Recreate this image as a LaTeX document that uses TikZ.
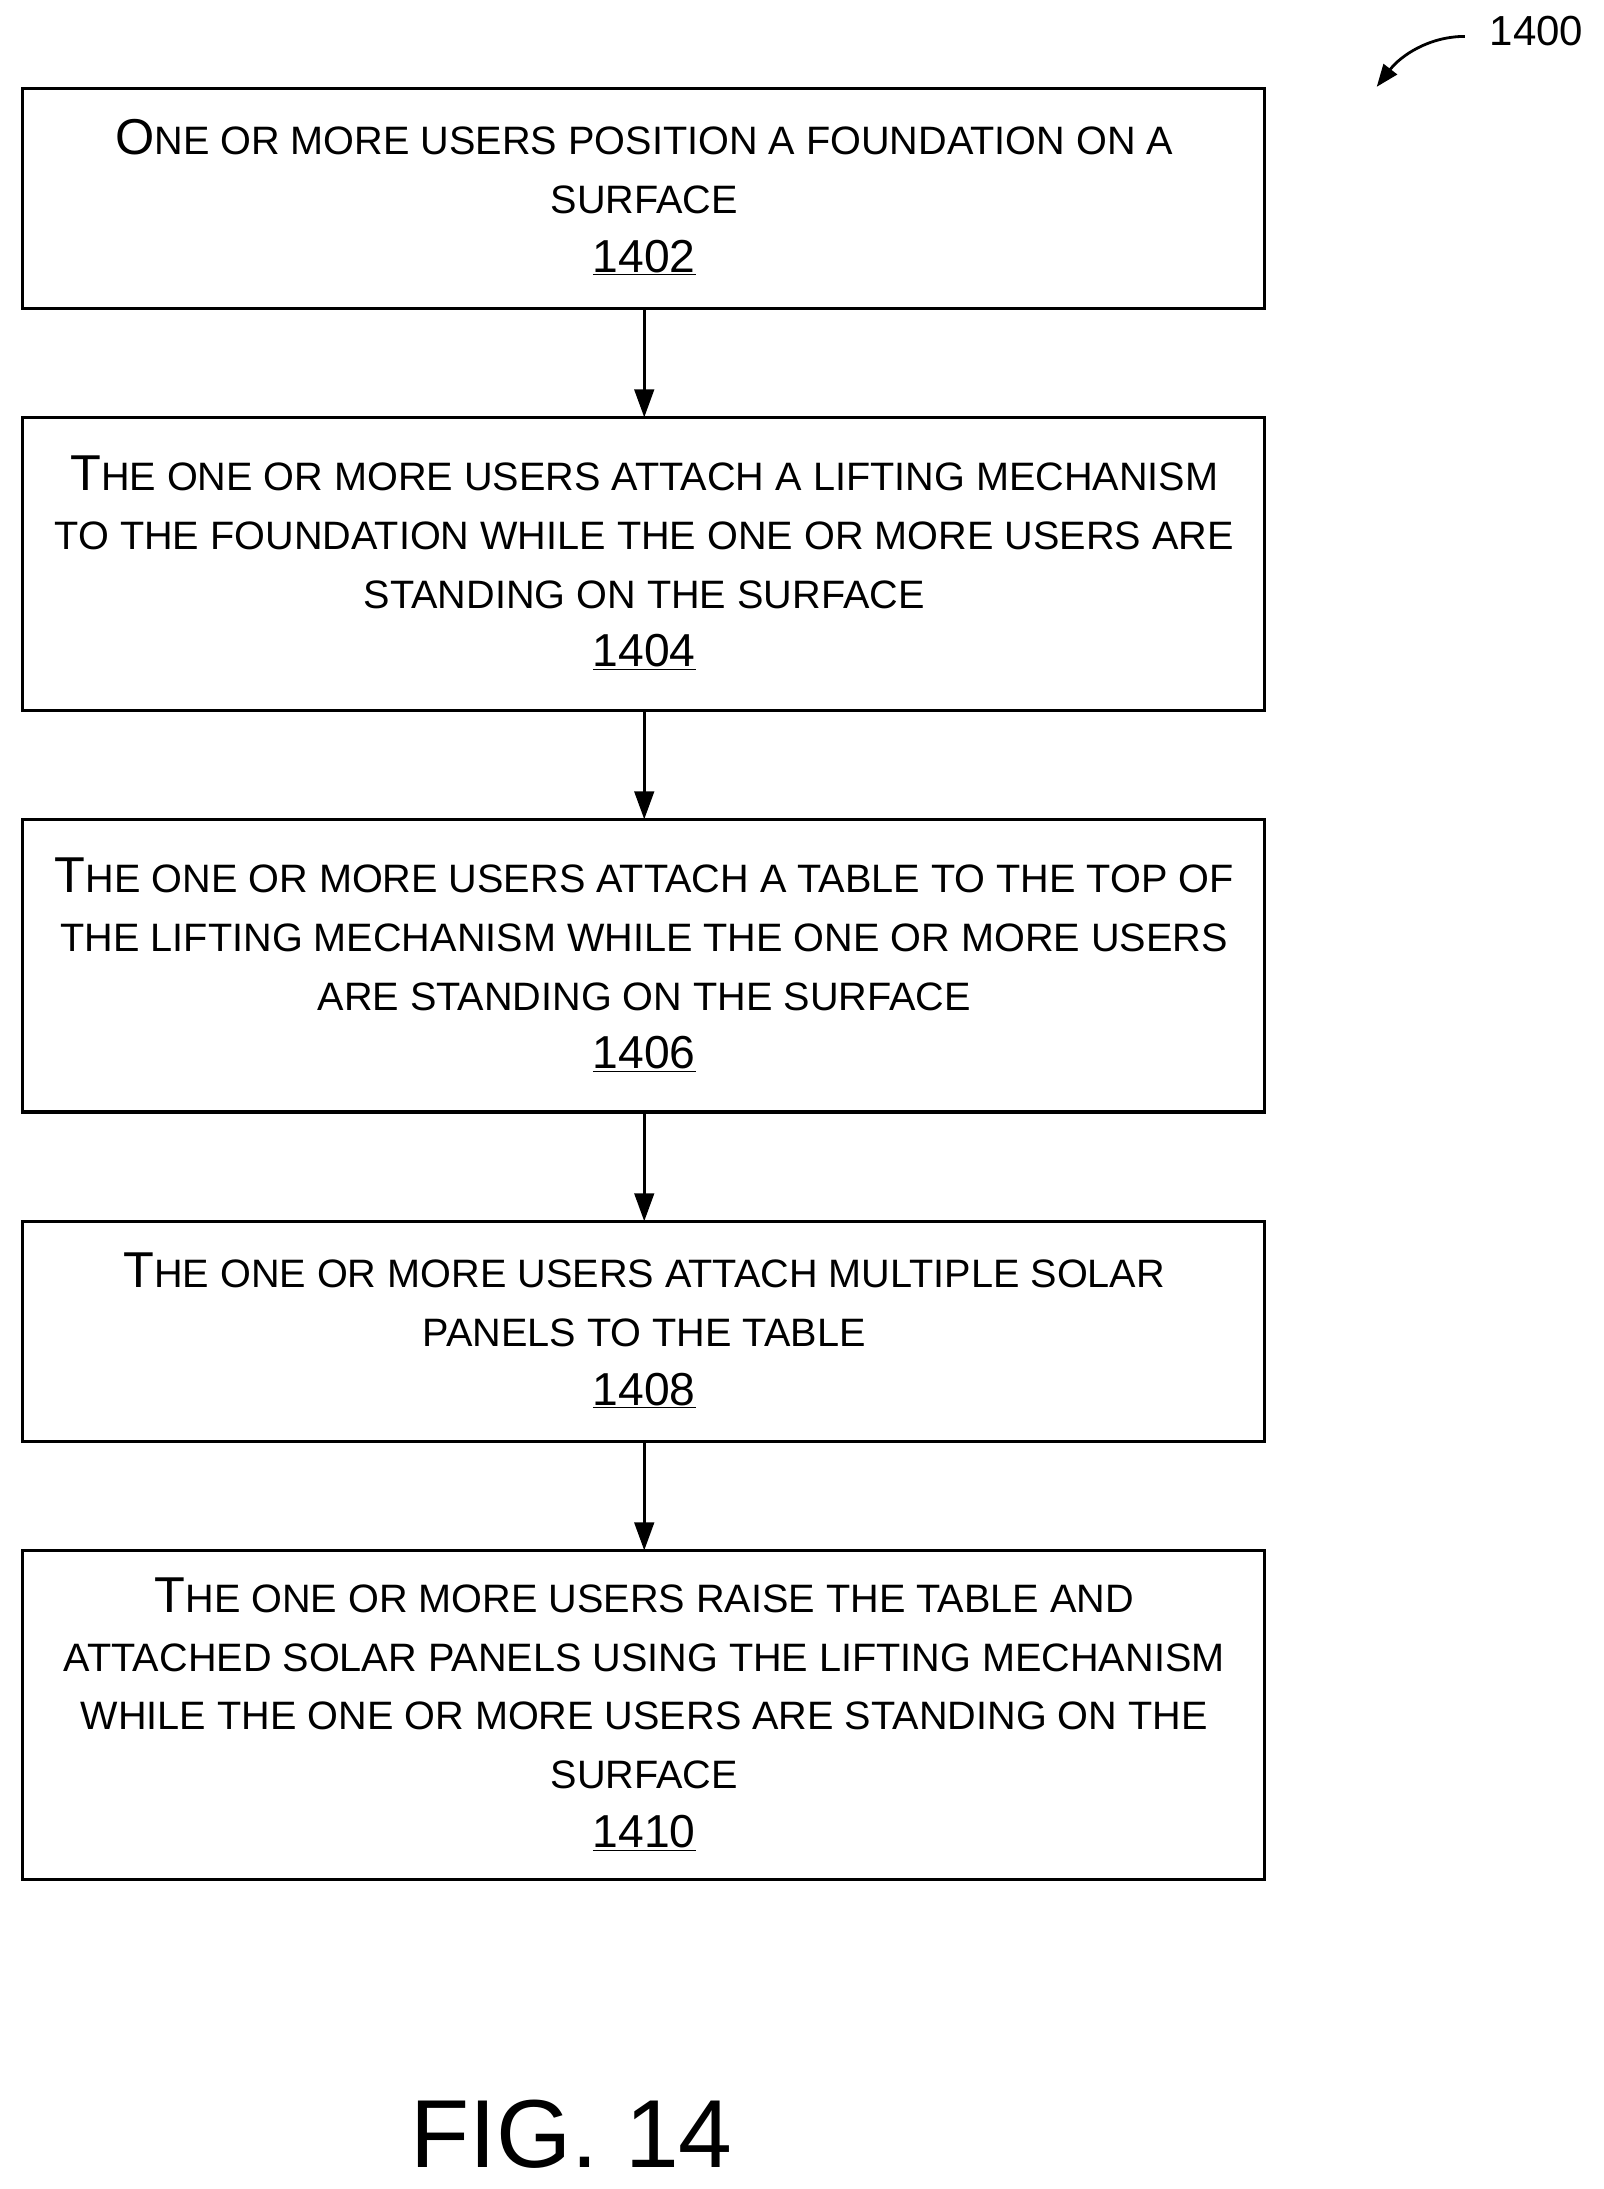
\documentclass[tikz,border=0pt]{standalone}
\usepackage{fontspec}
\setmainfont{Liberation Sans}
\usetikzlibrary{arrows.meta}
\newcommand{\bigc}[1]{{\fontsize{36}{42}\selectfont #1}}
\newcommand{\sm}[1]{{\fontsize{28.3}{42}\selectfont #1}}
\newcommand{\num}[1]{{\fontsize{33}{42}\selectfont\underline{#1}}}
\tikzset{txt/.style={align=center,inner sep=0pt,font=\fontsize{28.3}{42}\selectfont},
arr/.style={-{Triangle[length=20pt,width=14pt]},line width=2pt}}
\begin{document}
\begin{tikzpicture}[x=1pt,y=-1pt]
\useasboundingbox (0,0) rectangle (1145,1563);
\draw[line width=2.2pt] (16,63) rectangle (903,220);
\draw[line width=2.2pt] (16,298) rectangle (903,507);
\draw[line width=2.2pt] (16,585) rectangle (903,794);
\draw[line width=2.2pt] (16,872) rectangle (903,1029);
\draw[line width=2.2pt] (16,1107) rectangle (903,1342);
\coordinate (b1b) at (460,220); \coordinate (b2t) at (460,298);
\coordinate (b2b) at (460,507); \coordinate (b3t) at (460,585);
\coordinate (b3b) at (460,794); \coordinate (b4t) at (460,872);
\coordinate (b4b) at (460,1029); \coordinate (b5t) at (460,1107);
\node[txt] (t1) at (460,141) {\bigc{O}\sm{NE OR MORE USERS POSITION A FOUNDATION ON A}\\\sm{SURFACE}\\\num{1402}};
\node[txt] (t2) at (460,402) {\bigc{T}\sm{HE ONE OR MORE USERS ATTACH A LIFTING MECHANISM}\\\sm{TO THE FOUNDATION WHILE THE ONE OR MORE USERS ARE}\\\sm{STANDING ON THE SURFACE}\\\num{1404}};
\node[txt] (t3) at (460,689) {\bigc{T}\sm{HE ONE OR MORE USERS ATTACH A TABLE TO THE TOP OF}\\\sm{THE LIFTING MECHANISM WHILE THE ONE OR MORE USERS}\\\sm{ARE STANDING ON THE SURFACE}\\\num{1406}};
\node[txt] (t4) at (460,950) {\bigc{T}\sm{HE ONE OR MORE USERS ATTACH MULTIPLE SOLAR}\\\sm{PANELS TO THE TABLE}\\\num{1408}};
\node[txt] (t5) at (460,1224) {\bigc{T}\sm{HE ONE OR MORE USERS RAISE THE TABLE AND}\\\sm{ATTACHED SOLAR PANELS USING THE LIFTING MECHANISM}\\\sm{WHILE THE ONE OR MORE USERS ARE STANDING ON THE}\\\sm{SURFACE}\\\num{1410}};
\draw[arr] (b1b) -- (b2t);
\draw[arr] (b2b) -- (b3t);
\draw[arr] (b3b) -- (b4t);
\draw[arr] (b4b) -- (b5t);
\node[font=\fontsize{30}{36}\selectfont] (lab) at (1097,22) {1400};
\coordinate (ls) at (1046,26);
\coordinate (le) at (983,62);
\draw[line width=2pt,-{Triangle[length=16pt,width=12pt]}] (ls) .. controls (1020,26) and (1000,40) .. (le);
\node[font=\fontsize{69}{72}\selectfont] (fig) at (408,1524) {FIG. 14};
\end{tikzpicture}
\end{document}
